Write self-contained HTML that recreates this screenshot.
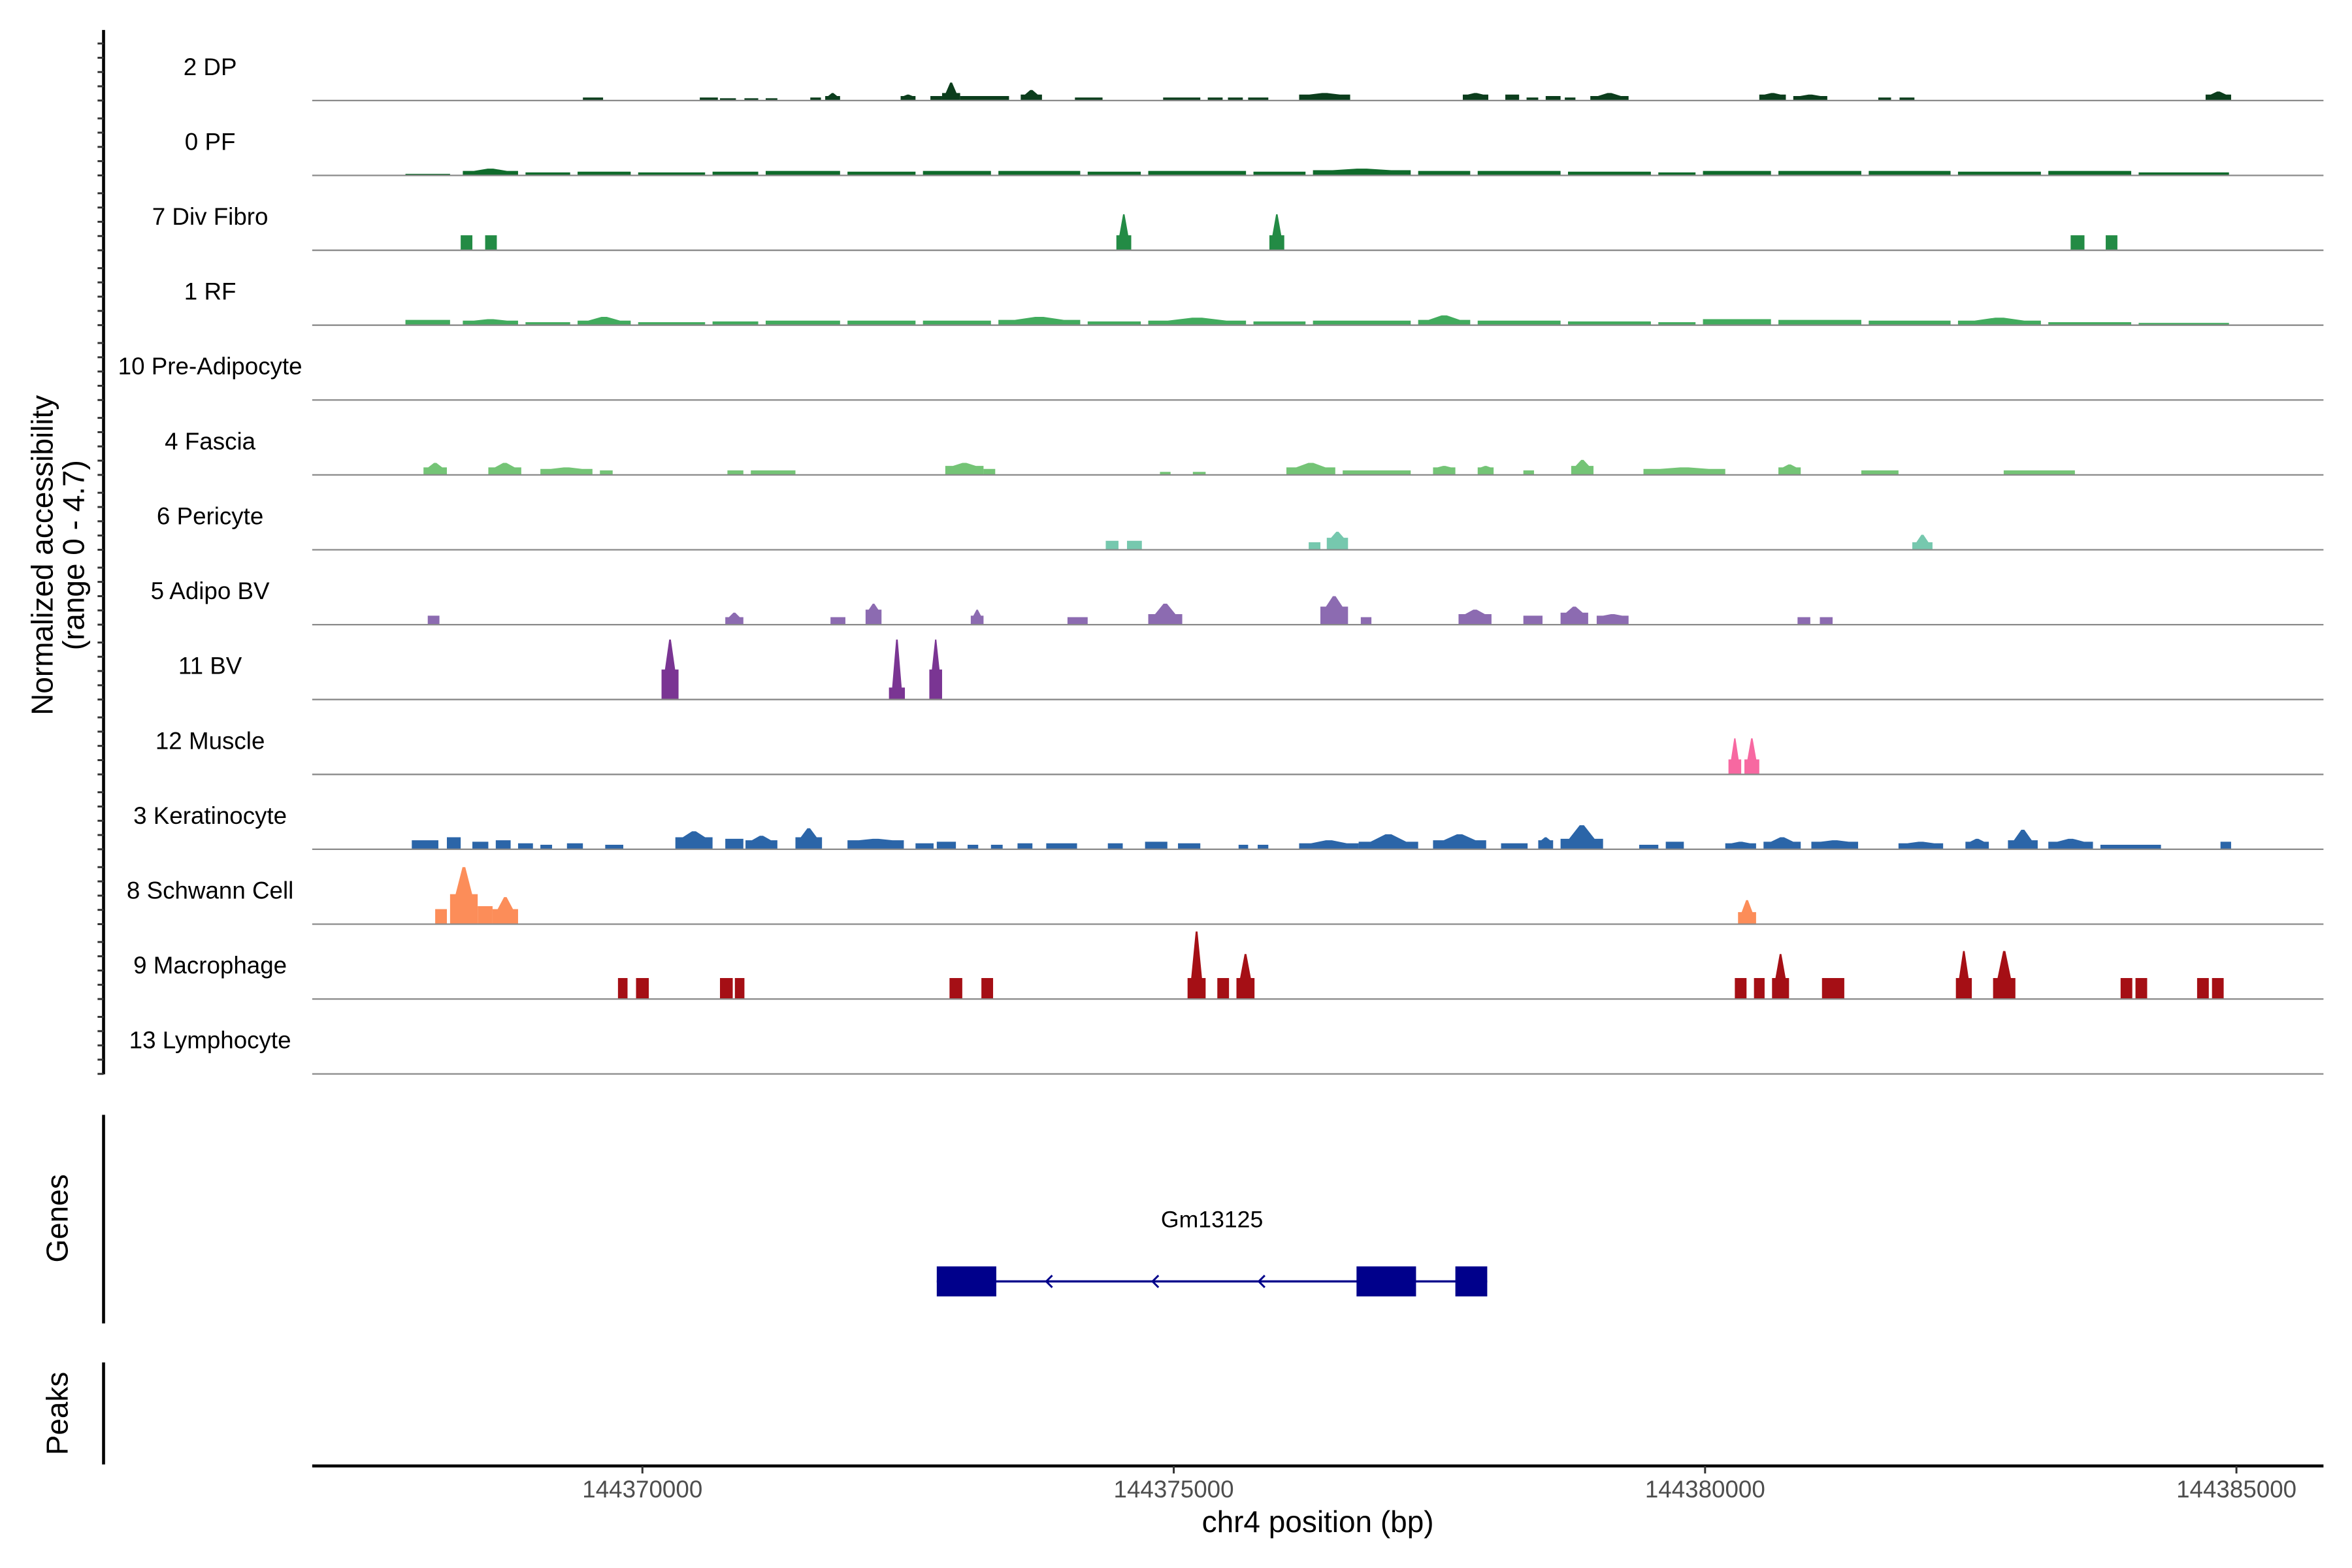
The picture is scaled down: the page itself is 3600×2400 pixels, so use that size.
<!DOCTYPE html>
<html><head><meta charset="utf-8"><style>
html,body{margin:0;padding:0;background:#fff;}
svg{display:block;font-family:"Liberation Sans",Arial,sans-serif;}
</style></head><body>
<svg id="chart" width="3600" height="2400" viewBox="0 0 1567 1045" preserveAspectRatio="none" xmlns="http://www.w3.org/2000/svg">
<rect x="0" y="0" width="1567" height="1045" fill="#fff"/>
<g id="tracks"></g>
<g id="axes"></g>
</svg>
<script>
// Data: peaks per track as [start kb rel. 144370000, end kb, base height, peak height] in normalized accessibility units
const trackNames = ["2 DP","0 PF","7 Div Fibro","1 RF","10 Pre-Adipocyte","4 Fascia","6 Pericyte","5 Adipo BV","11 BV","12 Muscle","3 Keratinocyte","8 Schwann Cell","9 Macrophage","13 Lymphocyte"];
const trackColors = ["#0b3d1c","#0f6b2b","#238b45","#41ab5d","#74c476","#74c476","#76c8ae","#8c6bb1","#7a3593","#f768a1","#2b65a8","#fc8d59","#a50f15","#555555"];
const dpPeaks = [[-0.56,-0.37,0.2],[0.54,0.71,0.2],[0.73,0.88,0.15],[0.96,1.09,0.15],[1.16,1.27,0.15],[1.58,1.68,0.2],[1.72,1.86,0.3,0.5],[2.43,2.57,0.3,0.4],[2.71,2.82,0.3],[2.82,2.99,0.5,1.2],[2.99,3.45,0.3],[3.56,3.76,0.4,0.7],[4.07,4.33,0.2],[4.90,5.25,0.2],[5.32,5.46,0.2],[5.51,5.65,0.2],[5.70,5.89,0.2],[6.18,6.66,0.4,0.5],[7.72,7.96,0.4,0.5],[8.12,8.25,0.4],[8.32,8.43,0.2],[8.50,8.64,0.3],[8.68,8.78,0.2],[8.92,9.28,0.3,0.5],[10.51,10.76,0.4,0.5],[10.83,11.15,0.3,0.4],[11.63,11.75,0.2],[11.83,11.97,0.2],[14.71,14.95,0.4,0.6]];
const pfPeaks = [[-2.23,-1.81,0.1],[-1.69,-1.17,0.3,0.45],[-1.10,-0.68,0.2],[-0.61,-0.11,0.25],[-0.04,0.59,0.2],[0.66,1.09,0.25],[1.16,1.86,0.3],[1.93,2.57,0.25],[2.64,3.28,0.3],[3.35,4.12,0.3],[4.19,4.69,0.25],[4.76,5.68,0.3],[5.75,6.24,0.25],[6.31,7.23,0.35,0.45],[7.30,7.79,0.3],[7.86,8.64,0.3],[8.71,9.49,0.25],[9.56,9.91,0.2],[9.98,10.62,0.3],[10.69,11.47,0.3],[11.54,12.31,0.3],[12.38,13.16,0.25],[13.23,14.01,0.3],[14.08,14.93,0.2]];
const divFibroPeaks = [[-1.71,-1.60,1.0],[-1.48,-1.37,1.0],[4.46,4.60,1.0,2.4],[5.90,6.04,1.0,2.4],[13.44,13.57,1.0],[13.77,13.88,1.0]];
const rfPeaks = [[-2.23,-1.81,0.35],[-1.69,-1.17,0.3,0.4],[-1.10,-0.68,0.2],[-0.61,-0.11,0.3,0.55],[-0.04,0.59,0.2],[0.66,1.09,0.25],[1.16,1.86,0.3],[1.93,2.57,0.3],[2.64,3.28,0.3],[3.35,4.12,0.35,0.55],[4.19,4.69,0.25],[4.76,5.68,0.3,0.5],[5.75,6.24,0.25],[6.31,7.23,0.3],[7.30,7.79,0.35,0.65],[7.86,8.64,0.3],[8.71,9.49,0.25],[9.56,9.91,0.2],[9.98,10.62,0.4],[10.69,11.47,0.35],[11.54,12.31,0.3],[12.38,13.16,0.3,0.5],[13.23,14.01,0.2],[14.08,14.93,0.15]];
const preAdipoPeaks = [];
const fasciaPeaks = [[-2.06,-1.84,0.5,0.8],[-1.45,-1.14,0.5,0.8],[-0.96,-0.47,0.4,0.5],[-0.40,-0.28,0.3],[0.80,0.95,0.3],[1.02,1.44,0.3],[2.85,3.21,0.6,0.8],[3.21,3.32,0.4],[4.87,4.97,0.2],[5.18,5.30,0.2],[6.06,6.52,0.5,0.8],[6.59,7.23,0.3],[7.44,7.65,0.5,0.6],[7.86,8.01,0.5,0.6],[8.29,8.39,0.3],[8.74,8.95,0.6,1.0],[9.42,10.19,0.4,0.5],[10.69,10.90,0.5,0.7],[11.47,11.82,0.3],[12.81,13.48,0.3]];
const pericytePeaks = [[4.36,4.48,0.6],[4.56,4.70,0.6],[6.27,6.38,0.5],[6.44,6.64,0.8,1.2],[11.95,12.14,0.5,1.0]];
const adipoBvPeaks = [[-2.02,-1.91,0.6],[0.78,0.95,0.5,0.8],[1.77,1.91,0.5],[2.10,2.25,1.0,1.4],[3.09,3.21,0.6,1.0],[4.00,4.19,0.5],[4.76,5.08,0.7,1.4],[6.38,6.64,1.2,1.9],[6.76,6.86,0.5],[7.68,7.99,0.7,1.0],[8.29,8.47,0.6],[8.64,8.90,0.8,1.2],[8.98,9.28,0.6,0.7],[10.87,10.99,0.5],[11.08,11.20,0.5]];
const bvPeaks = [[0.18,0.34,2.0,4.0],[2.32,2.47,0.8,4.0],[2.70,2.82,2.0,4.0]];
const musclePeaks = [[10.22,10.34,1.0,2.4],[10.37,10.51,1.0,2.4]];
const keratinocytePeaks = [[-2.17,-1.92,0.6],[-1.84,-1.71,0.8],[-1.60,-1.45,0.5],[-1.38,-1.24,0.6],[-1.17,-1.03,0.4],[-0.96,-0.85,0.3],[-0.71,-0.56,0.4],[-0.35,-0.18,0.3],[0.31,0.66,0.8,1.2],[0.78,0.95,0.7],[0.97,1.27,0.6,0.9],[1.44,1.69,0.8,1.4],[1.93,2.46,0.6,0.7],[2.57,2.74,0.4],[2.77,2.95,0.5],[3.06,3.16,0.3],[3.28,3.39,0.3],[3.53,3.67,0.4],[3.80,4.09,0.4],[4.38,4.52,0.4],[4.73,4.94,0.5],[5.04,5.25,0.4],[5.61,5.70,0.3],[5.79,5.89,0.3],[6.18,6.74,0.4,0.6],[6.74,7.30,0.5,1.0],[7.44,7.94,0.6,1.0],[8.08,8.33,0.4],[8.43,8.57,0.6,0.8],[8.64,9.04,0.7,1.6],[9.38,9.56,0.3],[9.63,9.80,0.5],[10.19,10.48,0.4,0.5],[10.55,10.90,0.5,0.8],[11.00,11.44,0.5,0.6],[11.82,12.24,0.4,0.5],[12.45,12.67,0.5,0.7],[12.85,13.13,0.6,1.3],[13.23,13.65,0.5,0.7],[13.72,14.29,0.3],[14.85,14.95,0.5]];
const schwannPeaks = [[-1.95,-1.84,1.0],[-1.81,-1.55,2.0,3.8],[-1.55,-1.41,1.2],[-1.41,-1.17,1.0,1.8],[10.31,10.48,0.8,1.6]];
const macrophagePeaks = [[-0.23,-0.14,1.4],[-0.06,0.06,1.4],[0.73,0.85,1.4],[0.87,0.96,1.4],[2.89,3.01,1.4],[3.19,3.30,1.4],[5.13,5.30,1.4,4.5],[5.41,5.52,1.4],[5.59,5.76,1.4,3.0],[10.28,10.39,1.4],[10.46,10.56,1.4],[10.63,10.79,1.4,3.0],[11.10,11.31,1.4],[12.36,12.51,1.4,3.2],[12.71,12.92,1.4,3.2],[13.91,14.02,1.4],[14.05,14.16,1.4],[14.63,14.74,1.4],[14.77,14.88,1.4]];
const lymphocytePeaks = [];
const allPeaks = [dpPeaks,pfPeaks,divFibroPeaks,rfPeaks,preAdipoPeaks,fasciaPeaks,pericytePeaks,adipoBvPeaks,bvPeaks,musclePeaks,keratinocytePeaks,schwannPeaks,macrophagePeaks,lymphocytePeaks];
const xTickValues = [144370000,144375000,144380000,144385000];
const xTickLabels = ["144370000","144375000","144380000","144385000"];
const geneName = "Gm13125";
const geneStart = 2.77, geneEnd = 7.95;
const geneExons = [[2.77,3.33],[6.72,7.28],[7.65,7.95]];
const geneArrows = [3.8,4.8,5.8];

const NS = "http://www.w3.org/2000/svg";
const X0 = 428, PXPERKB = 70.8;
function xs(kb){ return X0 + kb*PXPERKB; }
function xbp(bp){ return xs((bp-144370000)/1000); }
const YPER = 10;
function ys(base,v){ return base - v*YPER; }
function mk(tag, attrs, parent){ const e=document.createElementNS(NS,tag); for(const k in attrs) e.setAttribute(k,attrs[k]); parent.appendChild(e); return e; }

const tracksG = document.getElementById('tracks');
const axesG = document.getElementById('axes');
const L = 208, R = 1548;

trackNames.forEach((name,i)=>{
  const base = 67 + i*49.9;
  const g = mk('g',{},tracksG);
  
  
  const t = mk('text',{x:140,y:base-17,'font-size':16,'text-anchor':'middle',fill:'#000'},g);
  t.textContent = name;
  
  
  allPeaks[i].forEach(p=>{
    const x1=xs(p[0]), x2=xs(p[1]); const h=p[2]; const pk = p.length>3?p[3]:h;
    const xm=(x1+x2)/2;
    let pts;
    if(pk>h){
      const w=(x2-x1);
      pts=[[x1,base],[x1,ys(base,h)],[xm-w*0.3,ys(base,h)],[xm-w*0.05,ys(base,pk)],[xm+w*0.05,ys(base,pk)],[xm+w*0.3,ys(base,h)],[x2,ys(base,h)],[x2,base]];
    } else {
      pts=[[x1,base],[x1,ys(base,h)],[x2,ys(base,h)],[x2,base]];
    }
    const poly = mk('polygon',{points:pts.map(q=>q[0].toFixed(2)+','+q[1].toFixed(2)).join(' '),fill:trackColors[i]},g);
    
    
  });
  const bl = mk('line',{x1:L,x2:R,y1:base,y2:base,stroke:'#8a8a8a','stroke-width':1},g);
  
  
});

const ya = mk('line',{x1:69,x2:69,y1:20,y2:716,stroke:'#000','stroke-width':2},axesG);


for(let i=0;i<14;i++){
  const top = 20 + i*49.9;
  for(let j=0;j<5;j++){
    const y = top + 9 + j*9.5;
    const tk = mk('line',{x1:65,x2:69,y1:y,y2:y,stroke:'#333','stroke-width':1.3},axesG);
    
    
  }
}
const yt = mk('text',{transform:'translate(35,370) rotate(-90)','font-size':20,'text-anchor':'middle'},axesG);


const ts1 = mk('tspan',{x:0,dy:0},yt); ts1.textContent='Normalized accessibility';
const ts2 = mk('tspan',{x:0,dy:21},yt); ts2.textContent='(range 0 - 4.7)';

const gl = mk('line',{x1:69,x2:69,y1:743,y2:882,stroke:'#000','stroke-width':2},axesG);


const gt = mk('text',{transform:'translate(45,812) rotate(-90)','font-size':20,'text-anchor':'middle'},axesG);
gt.textContent='Genes';


const gn = mk('text',{x:(xs(geneStart)+xs(geneEnd))/2,y:818,'font-size':15.5,'text-anchor':'middle'},axesG);
gn.textContent=geneName;


const gline = mk('line',{x1:xs(geneStart),x2:xs(geneEnd),y1:854,y2:854,stroke:'#00008b','stroke-width':1.5},axesG);


geneExons.forEach(e=>{
  const r = mk('rect',{x:xs(e[0]),y:844,width:xs(e[1])-xs(e[0]),height:20,fill:'#00008b'},axesG);
  
  
});
geneArrows.forEach(a=>{
  const x=xs(a);
  const ar = mk('polyline',{points:`${x+4},850 ${x},854 ${x+4},858`,fill:'none',stroke:'#00008b','stroke-width':1.3},axesG);
  
  
});

const pl = mk('line',{x1:69,x2:69,y1:908,y2:976,stroke:'#000','stroke-width':2},axesG);


const pt = mk('text',{transform:'translate(45,942) rotate(-90)','font-size':20,'text-anchor':'middle'},axesG);
pt.textContent='Peaks';



const xa = mk('line',{x1:L,x2:R,y1:977,y2:977,stroke:'#000','stroke-width':2},axesG);


xTickValues.forEach((v,i)=>{
  const x=xbp(v);
  const tk = mk('line',{x1:x,x2:x,y1:977,y2:982,stroke:'#333','stroke-width':1.3},axesG);
  
  
  const tl = mk('text',{x:x,y:998,'font-size':16,'text-anchor':'middle',fill:'#4d4d4d'},axesG);
  tl.textContent = xTickLabels[i];
  
  
});
const xt = mk('text',{x:878,y:1021,'font-size':20,'text-anchor':'middle'},axesG);
xt.textContent='chr4 position (bp)';


</script>
</body></html>
